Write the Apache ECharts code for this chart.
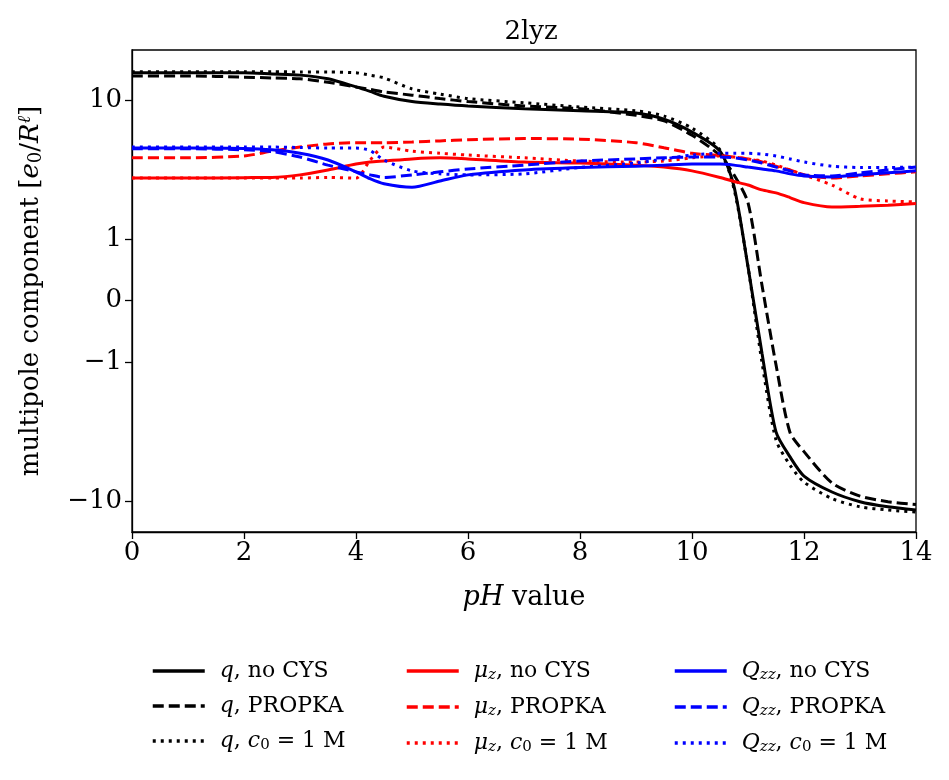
<!DOCTYPE html>
<html>
<head>
<meta charset="utf-8">
<script src="https://cdn.jsdelivr.net/npm/echarts@6/dist/echarts.min.js"></script>
<style>
  html, body { margin: 0; padding: 0; background: #fff; }
  #chart { width: 949px; height: 780px; }
</style>
</head>
<body>
<div id="chart"></div>
<script>
// pH grid shared by all curves
var ph = [0, 1, 2, 2.5, 3, 3.5, 4, 4.25, 4.5, 5, 5.5, 6, 7, 8, 9, 9.5, 10, 10.5, 10.75, 11, 11.25, 11.5, 11.75, 12, 12.5, 13, 13.5, 14];

// monopole q
var qNoCys  = [15.8, 15.8, 15.8, 15.5, 15.2, 14.3, 12.5, 11.6, 10.7, 9.8, 9.4, 9.1, 8.7, 8.4, 8.1, 7.3, 5.9, 4.3, 2.4, 0.55, -0.85, -3.17, -4.8, -6.6, -8.6, -10.1, -11.0, -11.6];
var qPropka = [15.0, 15.0, 14.7, 14.5, 14.3, 13.5, 12.5, 12.0, 11.5, 10.9, 10.3, 9.8, 9.1, 8.7, 7.8, 7.1, 5.6, 4.0, 2.9, 1.83, 0.25, -1.04, -3.2, -4.4, -7.4, -9.2, -10.1, -10.6];
var qC0     = [16.1, 16.1, 16.1, 16.1, 16.0, 16.0, 15.8, 15.2, 14.5, 12.1, 11.1, 10.3, 9.6, 8.95, 8.4, 7.7, 6.3, 4.4, 2.3, 0.55, -1.0, -3.63, -5.5, -7.3, -9.6, -11.0, -11.6, -12.0];
// dipole mu_z
var muNoCys  = [2.75, 2.75, 2.77, 2.78, 2.9, 3.15, 3.47, 3.59, 3.65, 3.78, 3.85, 3.78, 3.59, 3.53, 3.41, 3.3, 3.1, 2.78, 2.6, 2.45, 2.26, 2.15, 1.99, 1.83, 1.7, 1.72, 1.75, 1.8];
var muPropka = [3.85, 3.85, 3.97, 4.3, 4.6, 4.85, 4.95, 4.95, 4.95, 5.0, 5.1, 5.2, 5.3, 5.25, 4.95, 4.55, 4.15, 4.0, 3.9, 3.78, 3.6, 3.35, 3.15, 2.9, 2.75, 2.85, 2.95, 3.05];
var muC0     = [2.75, 2.75, 2.75, 2.75, 2.75, 2.78, 2.75, 3.7, 4.6, 4.3, 4.15, 4.03, 3.85, 3.65, 3.59, 3.65, 3.85, 3.97, 3.9, 3.78, 3.65, 3.41, 3.15, 2.9, 2.45, 1.95, 1.88, 1.85];
// quadrupole Q_zz
var qzzNoCys  = [4.53, 4.53, 4.5, 4.4, 4.15, 3.71, 3.05, 2.72, 2.5, 2.36, 2.62, 2.9, 3.15, 3.28, 3.35, 3.41, 3.47, 3.47, 3.41, 3.3, 3.2, 3.1, 2.95, 2.85, 2.8, 2.9, 3.0, 3.1];
var qzzPropka = [4.47, 4.47, 4.4, 4.27, 3.9, 3.41, 3.05, 2.9, 2.78, 2.9, 3.05, 3.2, 3.41, 3.65, 3.78, 3.85, 3.9, 3.9, 3.85, 3.71, 3.53, 3.3, 3.1, 2.9, 2.85, 3.0, 3.15, 3.3];
var qzzC0     = [4.6, 4.6, 4.6, 4.6, 4.57, 4.53, 4.53, 4.35, 3.71, 3.1, 2.95, 2.9, 2.95, 3.28, 3.53, 3.78, 4.03, 4.15, 4.15, 4.15, 4.1, 3.97, 3.78, 3.59, 3.35, 3.28, 3.28, 3.3];

var yTicks = [-10, -1, 0, 1, 10];
var xTicks = [0, 2, 4, 6, 8, 10, 12, 14];

// symlog axis (linear between -1 and 1)
var L = 0.445;
function symlog(v) {
  var a = Math.abs(v);
  return a <= 1 ? v * L : Math.sign(v) * (L + Math.log10(a));
}
function unsymlog(t) {
  var a = Math.abs(t);
  return a <= L ? t / L : Math.sign(t) * Math.pow(10, a - L);
}

var FONT = 'DejaVu Serif';
var DASH = [11, 5];
var DOT = [3, 5];

function mk(name, vals, color, type) {
  return {
    name: name,
    type: 'line',
    showSymbol: false,
    symbol: 'none',
    smooth: 0.25,
    data: vals.map(function (v, i) { return [ph[i], symlog(v)]; }),
    lineStyle: { color: color, width: 3, type: type, cap: 'butt' },
    itemStyle: { color: color },
    z: 3
  };
}

var series = [
  mk('q, no CYS', qNoCys, '#000000', 'solid'),
  mk('q, PROPKA', qPropka, '#000000', DASH),
  mk('q, c0 = 1 M', qC0, '#000000', DOT),
  mk('mu, no CYS', muNoCys, '#ff0000', 'solid'),
  mk('mu, PROPKA', muPropka, '#ff0000', DASH),
  mk('mu, c0 = 1 M', muC0, '#ff0000', DOT),
  mk('Qzz, no CYS', qzzNoCys, '#0000ff', 'solid'),
  mk('Qzz, PROPKA', qzzPropka, '#0000ff', DASH),
  mk('Qzz, c0 = 1 M', qzzC0, '#0000ff', DOT)
];

var LF = 22;
var legendRich = {
  i: { fontFamily: FONT, fontStyle: 'italic', fontSize: LF, color: '#000' },
  sub: { fontFamily: FONT, fontStyle: 'italic', fontSize: 15, color: '#000', padding: [9, 0, 0, 0] },
  subr: { fontFamily: FONT, fontSize: 15, color: '#000', padding: [9, 0, 0, 0] },
  t: { fontFamily: FONT, fontSize: LF, color: '#000' }
};

function legendLabel(name) {
  var parts = name.split(', ');
  var sym = parts[0], rest = parts[1];
  var s;
  if (sym === 'q') s = '{i|q}';
  else if (sym === 'mu') s = '{i|μ}{sub|z}';
  else s = '{i|Q}{sub|zz}';
  if (rest === 'c0 = 1 M') rest = '{i|c}{subr|0}{t| = 1 M}';
  else rest = '{t|' + rest + '}';
  return s + '{t|, }' + rest;
}

function legendCol(left, names) {
  return {
    orient: 'vertical',
    left: left,
    top: 655,
    itemWidth: 52,
    itemHeight: 14,
    itemGap: 13,
    data: names,
    formatter: legendLabel,
    itemStyle: { opacity: 0 },
    lineStyle: { width: 3.5 },
    textStyle: { fontFamily: FONT, fontSize: LF, color: '#000', rich: legendRich, padding: [0, 0, 0, 10] },
    selectedMode: false
  };
}

var chart = echarts.init(document.getElementById('chart'));
chart.setOption({
  animation: false,
  backgroundColor: '#fff',
  title: {
    text: '2lyz',
    left: 526,
    top: 14,
    textAlign: 'center',
    textStyle: { fontFamily: FONT, fontSize: 26, fontWeight: 'normal', color: '#000' }
  },
  legend: [
    legendCol(146, ['q, no CYS', 'q, PROPKA', 'q, c0 = 1 M']),
    legendCol(400, ['mu, no CYS', 'mu, PROPKA', 'mu, c0 = 1 M']),
    legendCol(668, ['Qzz, no CYS', 'Qzz, PROPKA', 'Qzz, c0 = 1 M'])
  ],
  grid: {
    left: 132, right: 33, top: 50, bottom: 248,
    show: true, borderColor: '#000', borderWidth: 1.3, backgroundColor: 'transparent'
  },
  xAxis: {
    type: 'value',
    min: 0, max: 14, interval: 2,
    name: '{i|pH} value',
    nameLocation: 'middle',
    nameGap: 52,
    nameTextStyle: {
      fontFamily: FONT, fontSize: 27, color: '#000',
      rich: { i: { fontFamily: FONT, fontStyle: 'italic', fontSize: 27, color: '#000' } }
    },
    axisLine: { show: true, onZero: false, lineStyle: { color: '#000', width: 1.3 } },
    axisTick: { show: true, length: 7, lineStyle: { color: '#000', width: 1.3 } },
    axisLabel: { fontFamily: FONT, fontSize: 26, color: '#000', margin: 8, customValues: xTicks },
    splitLine: { show: false }
  },
  yAxis: {
    type: 'value',
    min: -1.668, max: 1.808,
    name: 'multipole component [{i|e}{sub|0}/{i|R}{sup|ℓ}]',
    nameLocation: 'middle',
    nameRotate: 90,
    nameGap: 86,
    nameTextStyle: {
      fontFamily: FONT, fontSize: 26, color: '#000',
      rich: {
        i: { fontFamily: FONT, fontStyle: 'italic', fontSize: 26, color: '#000' },
        sub: { fontFamily: FONT, fontSize: 18, color: '#000', padding: [10, 0, 0, 0] },
        sup: { fontFamily: FONT, fontStyle: 'italic', fontSize: 18, color: '#000', padding: [0, 0, 12, 0] }
      }
    },
    axisLine: { show: true, onZero: false, lineStyle: { color: '#000', width: 1.3 } },
    axisTick: { show: true, length: 7, lineStyle: { color: '#000', width: 1.3 }, customValues: yTicks.map(symlog) },
    axisLabel: {
      fontFamily: FONT, fontSize: 26, color: '#000', margin: 10,
      customValues: yTicks.map(symlog),
      formatter: function (val) {
        var v = Math.round(unsymlog(val));
        return v < 0 ? '\u2212' + (-v) : String(v);
      }
    },
    splitLine: { show: false }
  },
  series: series
});
</script>
</body>
</html>
